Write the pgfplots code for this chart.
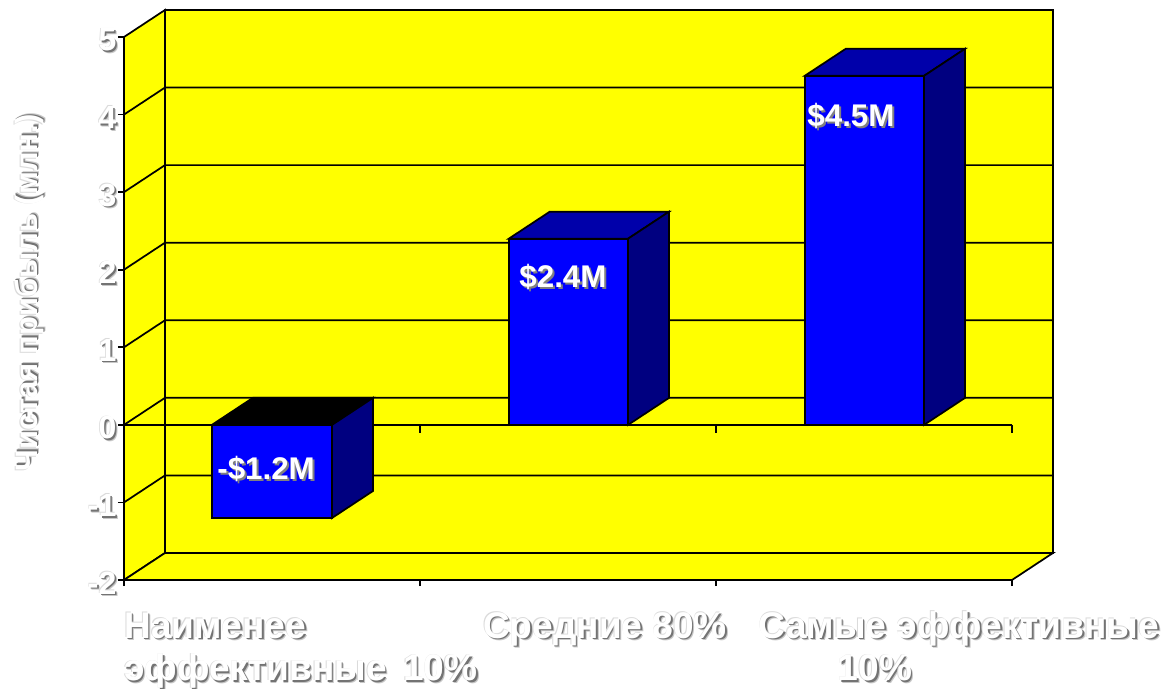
\documentclass[border=0pt]{standalone}
\usepackage{fontspec}
\setmainfont{Liberation Sans}
\usepackage{pgfplots}
\pgfplotsset{compat=1.18}

\definecolor{wallyellow}{RGB}{255,255,0}
\definecolor{barfront}{RGB}{0,0,255}
\definecolor{bartop}{RGB}{0,0,170}
\definecolor{barside}{RGB}{0,0,128}

% White lettering with a soft grey drop shadow
\newcommand\layer[4]{\makebox[0pt][l]{\kern#1pt\raisebox{#2pt}{\textcolor{#3}{#4}}}}
\newcommand\shadowed[1]{\leavevmode
  \layer{1.9}{-1.9}{black!22}{#1}%
  \layer{1.2}{-1.2}{black!55}{#1}%
  \layer{-0.5}{0.5}{black!14}{#1}%
  \textcolor{white}{#1}}
\newcommand\barlabel[1]{\leavevmode
  \layer{1.5}{-1.5}{black!50}{#1}%
  \textcolor{white}{#1}}

\begin{document}
\begin{tikzpicture}
\useasboundingbox (0,0) rectangle (873pt,516.75pt);
\fill[white] (0,0) rectangle (873pt,516.75pt);
\begin{axis}[
  at={(93pt,81.75pt)}, anchor=south west,
  scale only axis, width=666pt, height=407.25pt,
  xmin=0, xmax=3, ymin=-2, ymax=5,
  clip=false, axis on top,
  axis lines*=left, axis line style={-, black, line width=1.3pt},
  xtick={0,1,2,3}, xticklabels={},
  ytick={-2,-1,0,1,2,3,4,5},
  yticklabels={\shadowed{-2},\shadowed{-1},\shadowed{0},\shadowed{1},\shadowed{2},\shadowed{3},\shadowed{4},\shadowed{5}},
  yticklabel style={font=\bfseries\fontsize{24}{24}\selectfont, inner sep=0pt, xshift=-1pt, yshift=-3pt},
  tick align=outside, major tick length=4.5pt,
  tick style={black, line width=1.3pt},
  cycle list={{black, solid, mark=none, line width=1.3pt}},
  every axis plot/.append style={black, solid, mark=none, line width=1.3pt},
]
% walls and floor of the box
\addplot[fill=wallyellow] coordinates {(0.1385,-1.6516) (3.1385,-1.6516) (3.1385,5.3484) (0.1385,5.3484)} -- cycle;
\addplot[fill=wallyellow] coordinates {(0,-2) (0.1385,-1.6516) (0.1385,5.3484) (0,5)} -- cycle;
\addplot[fill=wallyellow] coordinates {(0,-2) (3,-2) (3.1385,-1.6516) (0.1385,-1.6516)} -- cycle;

% gridlines running across the side and back walls
\addplot coordinates {(0,-1) (0.1385,-0.6516) (3.1385,-0.6516)};
\addplot coordinates {(0,0) (0.1385,0.3484) (3.1385,0.3484)};
\addplot coordinates {(0,1) (0.1385,1.3484) (3.1385,1.3484)};
\addplot coordinates {(0,2) (0.1385,2.3484) (3.1385,2.3484)};
\addplot coordinates {(0,3) (0.1385,3.3484) (3.1385,3.3484)};
\addplot coordinates {(0,4) (0.1385,4.3484) (3.1385,4.3484)};

% category axis at zero with its ticks
\addplot coordinates {(0,0) (3,0)};
\addplot coordinates {(1,0) (1,-0.103)};
\addplot coordinates {(2,0) (2,-0.103)};
\addplot coordinates {(3,0) (3,-0.103)};

% bars: top, side, front
\addplot[fill=black] coordinates {(0.297,0) (0.4355,0.3484) (0.8415,0.3484) (0.703,0)} -- cycle;
\addplot[fill=barside] coordinates {(0.703,0) (0.8415,0.3484) (0.8415,-0.8516) (0.703,-1.2)} -- cycle;
\addplot[fill=barfront] coordinates {(0.297,0) (0.703,0) (0.703,-1.2) (0.297,-1.2)} -- cycle;

\addplot[fill=bartop] coordinates {(1.3,2.4) (1.4385,2.7484) (1.8415,2.7484) (1.703,2.4)} -- cycle;
\addplot[fill=barside] coordinates {(1.703,0) (1.8415,0.3484) (1.8415,2.7484) (1.703,2.4)} -- cycle;
\addplot[fill=barfront] coordinates {(1.3,0) (1.703,0) (1.703,2.4) (1.3,2.4)} -- cycle;

\addplot[fill=bartop] coordinates {(2.3,4.5) (2.4385,4.8484) (2.8415,4.8484) (2.703,4.5)} -- cycle;
\addplot[fill=barside] coordinates {(2.703,0) (2.8415,0.3484) (2.8415,4.8484) (2.703,4.5)} -- cycle;
\addplot[fill=barfront] coordinates {(2.3,0) (2.703,0) (2.703,4.5) (2.3,4.5)} -- cycle;

% value labels
\begin{scope}[every node/.style={font=\bfseries\fontsize{23.5}{23.5}\selectfont, inner sep=0pt}]
\node at (axis cs:0.48,-0.58) {\barlabel{-\$1.2M}};
\node at (axis cs:1.483,1.897) {\barlabel{\$2.4M}};
\node at (axis cs:2.456,3.974) {\barlabel{\$4.5M}};
\end{scope}

% category names
\begin{scope}[every node/.style={font=\bfseries\fontsize{27.8}{27.8}\selectfont, inner sep=0pt}]
\node[anchor=base west] at (axis cs:0,-2.748) {\shadowed{Наименее}};
\node[anchor=base west] at (axis cs:0,-3.30) {\shadowed{эффективные\hspace{12.5pt}10\%}};
\node[anchor=base] at (axis cs:1.625,-2.748) {\shadowed{Средние 80\%}};
\node[anchor=base] at (axis cs:2.821,-2.748) {\shadowed{Самые эффективные}};
\node[anchor=base] at (axis cs:2.537,-3.30) {\shadowed{10\%}};
\end{scope}

% value axis title
\node[rotate=90, font=\bfseries\fontsize{23.2}{23.2}\selectfont, inner sep=0pt] at (axis cs:-0.3176,1.70) {\shadowed{Чистая прибыль (млн.)}};
\end{axis}
\end{tikzpicture}
\end{document}
